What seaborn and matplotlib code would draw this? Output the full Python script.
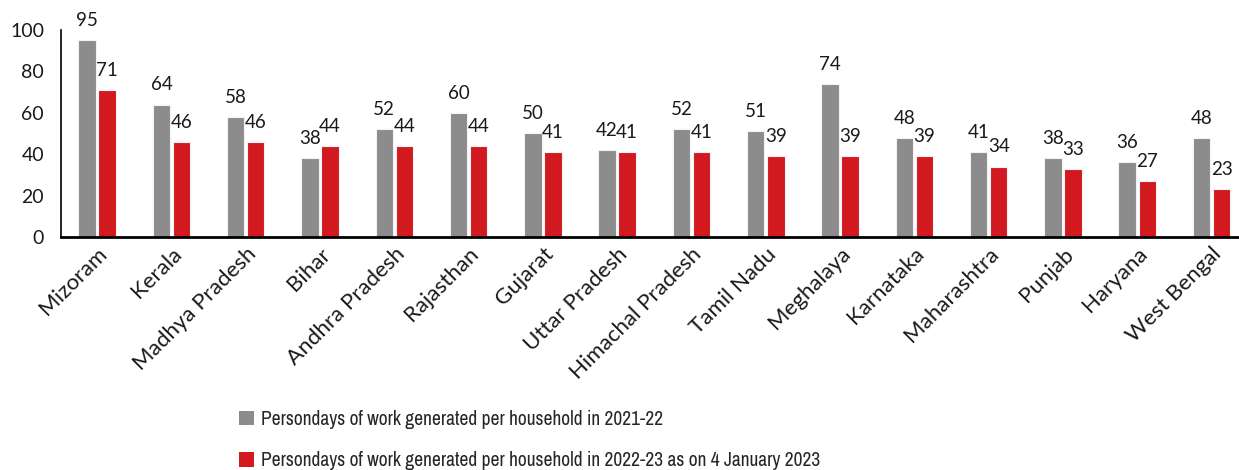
import matplotlib
matplotlib.use("Agg")
import matplotlib.pyplot as plt
import seaborn as sns
import pandas as pd
from matplotlib.patches import Patch
from matplotlib import font_manager

states = ["Mizoram", "Kerala", "Madhya Pradesh", "Bihar", "Andhra Pradesh", "Rajasthan",
          "Gujarat", "Uttar Pradesh", "Himachal Pradesh", "Tamil Nadu", "Meghalaya",
          "Karnataka", "Maharashtra", "Punjab", "Haryana", "West Bengal"]
v2122 = [95, 64, 58, 38, 52, 60, 50, 42, 52, 51, 74, 48, 41, 38, 36, 48]
v2223 = [71, 46, 46, 44, 44, 44, 41, 41, 41, 39, 39, 39, 34, 33, 27, 23]
series = ["Persondays of work generated per household in 2021-22",
          "Persondays of work generated per household in 2022-23 as on 4 January 2023"]
colors = ["#8c8c8c", "#d2191f"]
yticks = [0, 20, 40, 60, 80, 100]

df = pd.DataFrame({
    "State": states * 2,
    "Value": v2122 + v2223,
    "Series": [series[0]] * len(states) + [series[1]] * len(states),
})

# look for a condensed face for the legend
cond = None
for f in font_manager.fontManager.ttflist:
    if "narrow" in f.name.lower() or "condensed" in f.name.lower():
        cond = {"family": f.name}
        break
if cond is None:
    for f in font_manager.fontManager.ttflist:
        st = str(f.stretch).lower()
        if "condensed" in st or (st.isdigit() and int(st) < 500):
            cond = {"family": f.name, "stretch": f.stretch}
            break

sns.set_theme(style="white")
plt.rcParams["font.family"] = ["Lato", "DejaVu Sans"]

fig = plt.figure(figsize=(12.39, 4.70), dpi=100)
ax = fig.add_axes([0.049, 0.496, 0.951, 0.440])

sns.barplot(data=df, x="State", y="Value", hue="Series", order=states,
            hue_order=series, palette=colors, saturation=1, width=0.54, gap=0.13,
            edgecolor="#f2f2f2", linewidth=0.8, ax=ax, legend=False)

for cont in ax.containers:
    ax.bar_label(cont, fmt="%d", padding=8, fontsize=13.5, color="#1a1a1a")

ax.set_ylim(0, 100)
ax.set_xlim(-0.49, 15.37)
ax.set_yticks(yticks)
ax.set_yticklabels([str(t) for t in yticks], fontsize=14, color="#1a1a1a")
ax.tick_params(axis="y", length=0, pad=12)
ax.tick_params(axis="x", length=0, pad=5)
ax.set_xticks(range(len(states)))
ax.set_xticklabels(states, rotation=45, ha="right", rotation_mode="anchor",
                   fontsize=16, color="#1a1a1a")
ax.set_xlabel("")
ax.set_ylabel("")
for s in ["top", "right"]:
    ax.spines[s].set_visible(False)
ax.spines["left"].set_color("#000000")
ax.spines["left"].set_linewidth(1.2)
ax.spines["bottom"].set_color("#000000")
ax.spines["bottom"].set_linewidth(2)

if cond is not None:
    prop = dict(cond, size=14)
else:
    prop = {"family": "Lato", "size": 11}
handles = [Patch(facecolor=c, edgecolor="none") for c in colors]
fig.legend(handles, series, loc="upper left", bbox_to_anchor=(0.179, 0.165),
           frameon=False, ncol=1, handlelength=0.75, handleheight=0.75,
           handletextpad=0.35, labelspacing=1.15, prop=prop)

fig.savefig("out.png", dpi=100)
